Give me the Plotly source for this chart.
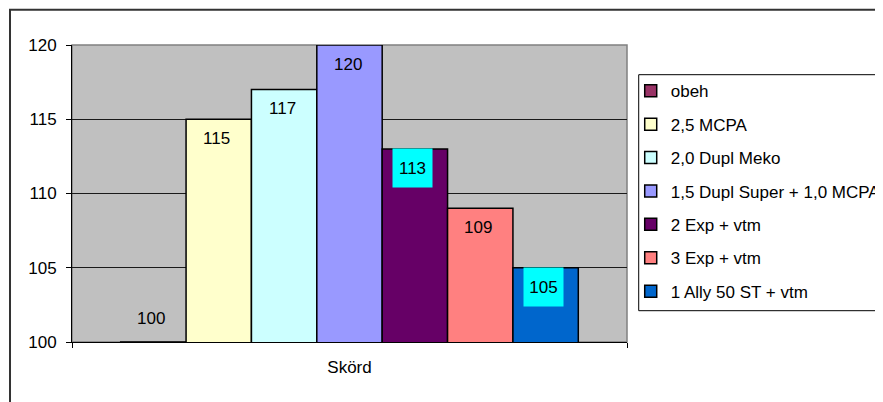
import plotly.graph_objects as go

# data
CATEGORY = "Skörd"
SERIES = ["obeh", "2,5 MCPA", "2,0 Dupl Meko", "1,5 Dupl Super + 1,0 MCPA",
          "2 Exp + vtm", "3 Exp + vtm", "1 Ally 50 ST + vtm"]
VALUES = [100, 115, 117, 120, 113, 109, 105]
COLORS = ["#993366", "#FFFFCC", "#CCFFFF", "#9999FF", "#660066", "#FF8080", "#0066CC"]
LABEL_BG = [None, None, None, None, "#00FFFF", None, "#00FFFF"]
Y_MIN, Y_MAX, Y_STEP = 100, 120, 5

FONT = "Liberation Sans, Arial, sans-serif"
GAP = 0.745  # category gap on each side, in bar widths

fig = go.Figure()
for i, (name, v, c) in enumerate(zip(SERIES, VALUES, COLORS)):
    fig.add_trace(go.Bar(
        x=[i], y=[v], name=name, width=1, legendgroup=name,
        marker=dict(color=c, line=dict(color="black", width=1.5)),
        hoverinfo="name+y",
    ))

annotations = []
for i, (v, bg) in enumerate(zip(VALUES, LABEL_BG)):
    a = dict(x=i, y=v, xref="x", yref="y", text=str(v), showarrow=False,
             yanchor="middle", xshift=-2,
             yshift=-19 if v > Y_MIN else 24,
             font=dict(family=FONT, size=17, color="black"))
    if bg:
        a.update(bgcolor=bg, width=37, height=36)
    annotations.append(a)

lo, hi = -0.5 - GAP, len(VALUES) - 0.5 + GAP
# page body has an 8px margin, so the figure is sized to fill the rest
fig.update_layout(
    width=875, height=394,
    paper_bgcolor="white", plot_bgcolor="#C0C0C0",
    font=dict(family=FONT, size=17, color="black"),
    margin=dict(l=64, r=256, t=37, b=60, autoexpand=False),
    showlegend=True,
    # legend frame is drawn as a shape so the text can sit close to it
    legend=dict(x=1.0067, y=0.905, xanchor="left", yanchor="top",
                borderwidth=0, bgcolor="rgba(0,0,0,0)",
                font=dict(family=FONT, size=17), traceorder="grouped",
                tracegroupgap=8.3, itemwidth=30),
    annotations=annotations,
    xaxis=dict(range=[lo, hi], tickvals=[(len(VALUES) - 1) / 2], ticktext=[CATEGORY],
               showgrid=False, zeroline=False, showline=True, linecolor="black",
               linewidth=1, ticks="", ticklabelstandoff=10,
               minor=dict(tickvals=[lo, hi], ticks="outside", ticklen=5, tickcolor="black")),
    yaxis=dict(range=[Y_MIN, Y_MAX], dtick=Y_STEP, tick0=Y_MIN, showgrid=True,
               gridcolor="#1a1a1a", gridwidth=1, zeroline=False, showline=True,
               linecolor="black", linewidth=1, ticks="outside", ticklen=5,
               tickcolor="black", ticklabelstandoff=6),
    shapes=[
        dict(type="rect", xref="paper", yref="paper", x0=0, x1=1, y0=0, y1=1,
             line=dict(color="#808080", width=1.5), layer="below"),
        dict(type="rect", xref="paper", yref="paper", x0=-0.1117, x1=2, y0=-1, y1=1.119,
             line=dict(color="#333333", width=2), layer="below"),
        dict(type="rect", xref="paper", yref="paper", x0=1.0211, x1=2, y0=0.1054, y1=0.9,
             line=dict(color="black", width=1), fillcolor="white", layer="below"),
    ],
)

fig.write_html("out.html")
